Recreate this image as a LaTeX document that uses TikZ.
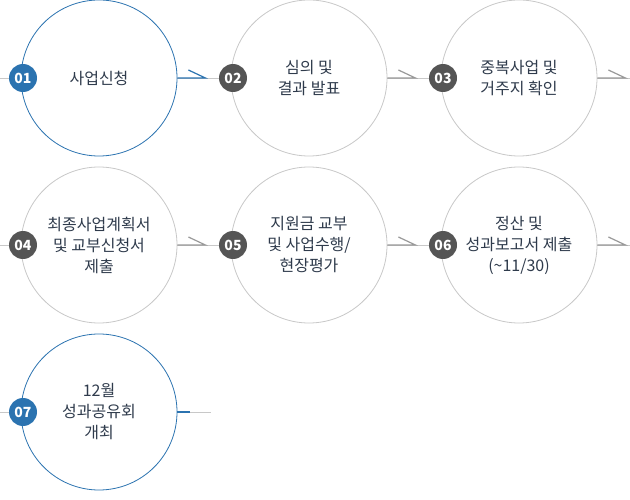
\documentclass[tikz,border=0pt]{standalone}
\usepackage{fontspec}
\setmainfont{Noto Sans CJK KR}
\definecolor{cblue}{HTML}{2B73B0}
\definecolor{cgray}{HTML}{C8C8C8}
\definecolor{carr}{HTML}{999999}
\definecolor{cdark}{HTML}{555555}
\definecolor{ctext}{HTML}{2F3B4C}
\begin{document}
\begin{tikzpicture}[x=1pt,y=-1pt,
 circ/.style={circle,draw=cgray,fill=white,line width=0.8pt,minimum size=156pt,inner sep=0pt,align=center,text=ctext,font=\fontsize{16}{21}\selectfont},
 bcirc/.style={circ,draw=cblue},
 badge/.style={circle,fill=cdark,minimum size=28pt,inner sep=0pt,text=white,font=\fontsize{14}{14}\selectfont\bfseries},
 bbadge/.style={badge,fill=cblue},
 thin/.style={cgray,line width=0.6pt},
 arr/.style={line width=1.2pt,carr},
 barr/.style={arr,cblue}]
\useasboundingbox (0,0) rectangle (630,500);
\draw[thin] (0,78) -- (630,78);
\draw[thin] (0,245) -- (630,245);
\draw[thin] (0,412) -- (211,412);
\node[bcirc] (c1) at (99,78) {사업신청};
\node[circ] (c2) at (309,78) {심의 및\\결과 발표};
\node[circ] (c3) at (519,78) {중복사업 및\\거주지 확인};
\node[circ] (c4) at (99,245) {최종사업계획서\\및 교부신청서\\제출};
\node[circ] (c5) at (309,245) {지원금 교부\\및 사업수행/\\현장평가};
\node[circ] (c6) at (519,245) {정산 및\\성과보고서 제출\\(\textasciitilde11/30)};
\node[bcirc] (c7) at (99,412) {12월\\성과공유회\\개최};
\foreach \c/\n/\s in {c1/01/bbadge,c2/02/badge,c3/03/badge,c4/04/badge,c5/05/badge,c6/06/badge,c7/07/bbadge}
  \node[\s] (b\n) at ([xshift=-76pt]\c.center) {\n};
\draw[barr] (c1.east) -- ++(28,0) -- ++(-17,-8);
\foreach \c in {c2,c3,c4,c5,c6}
  \draw[arr] (\c.east) -- ++(28,0) -- ++(-17,-8);
\draw[barr] (c7.east) -- ++(13,0);
\end{tikzpicture}
\end{document}
